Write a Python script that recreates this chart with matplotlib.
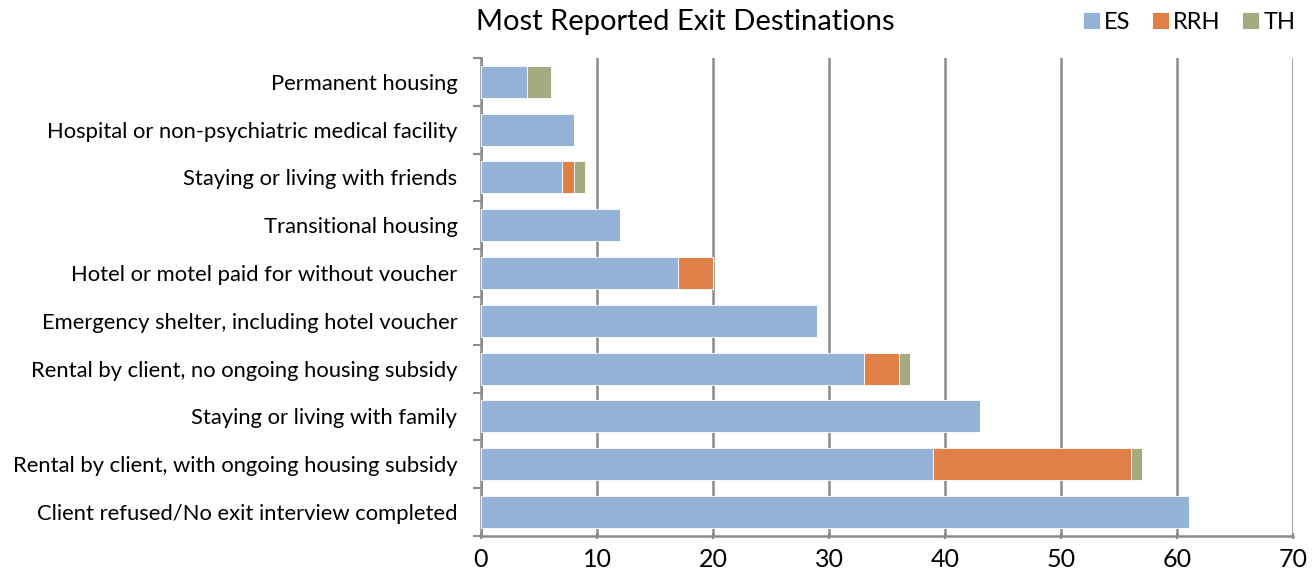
import numpy as np
import matplotlib.pyplot as plt

plt.rcParams['font.family'] = ['Lato', 'DejaVu Sans']

# exit destinations, top to bottom
destinations = [
    'Permanent housing',
    'Hospital or non-psychiatric medical facility',
    'Staying or living with friends',
    'Transitional housing',
    'Hotel or motel paid for without voucher',
    'Emergency shelter, including hotel voucher',
    'Rental by client, no ongoing housing subsidy',
    'Staying or living with family',
    'Rental by client, with ongoing housing subsidy',
    'Client refused/No exit interview completed',
]
es = [4, 8, 7, 12, 17, 29, 33, 43, 39, 61]
rrh = [0, 0, 1, 0, 3, 0, 3, 0, 17, 0]
th = [2, 0, 1, 0, 0, 0, 1, 0, 1, 0]

colors = {'ES': '#95b3d7', 'RRH': '#df8049', 'TH': '#a3ab80'}

fig = plt.figure(figsize=(13.16, 5.8), dpi=100)
ax = fig.add_axes([0.3655, 0.076, 0.617, 0.824])

y = np.arange(len(destinations))
es_a = np.array(es)
rrh_a = np.array(rrh)
th_a = np.array(th)
h = 0.67
ax.barh(y, es_a, height=h, color=colors['ES'], edgecolor='white', linewidth=0.6, label='ES', zorder=3)
ax.barh(y, rrh_a, left=es_a, height=h, color=colors['RRH'], edgecolor='white', linewidth=0.6, label='RRH', zorder=3)
ax.barh(y, th_a, left=es_a + rrh_a, height=h, color=colors['TH'], edgecolor='white', linewidth=0.6, label='TH', zorder=3)

ax.set_ylim(len(destinations) - 0.5, -0.5)
ax.set_xlim(0, 70)
ax.set_xticks(range(0, 71, 10))
ax.tick_params(axis='x', labelsize=18, length=5, width=1.5, color='#8c8c8c', direction='inout', pad=6)
ax.set_yticks(y)
ax.set_yticklabels(destinations, fontsize=15.8)
ax.set_yticks(np.arange(len(destinations) + 1) - 0.5, minor=True)
ax.tick_params(axis='y', which='major', length=0, pad=17)
ax.tick_params(axis='y', which='minor', length=6, width=1.5, color='#8c8c8c')

ax.grid(axis='x', color='#8c8c8c', linewidth=1.8, zorder=0)
for s in ['top', 'right']:
    ax.spines[s].set_visible(False)
for s in ['left', 'bottom']:
    ax.spines[s].set_color('#8c8c8c')
    ax.spines[s].set_linewidth(1.8)

fig.text(0.521, 0.962, 'Most Reported Exit Destinations', ha='center', va='center', fontsize=21)
fig.legend(loc='center right', bbox_to_anchor=(0.995, 0.962), ncol=3, frameon=False,
           fontsize=17, handlelength=0.7, handleheight=0.7, handletextpad=0.2,
           columnspacing=0.9, borderpad=0.1)

fig.savefig('out.png', dpi=100)
